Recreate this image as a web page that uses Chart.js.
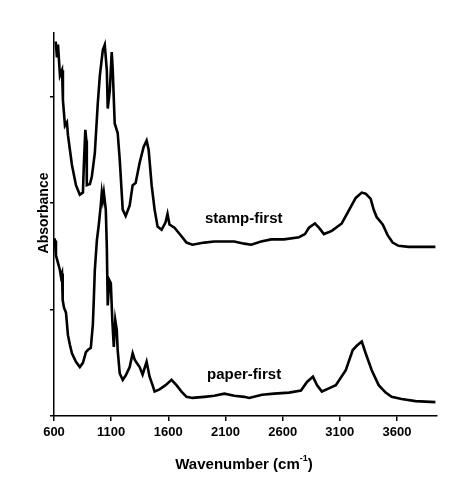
<!DOCTYPE html>
<html>
<head>
<meta charset="utf-8">
<script src="https://cdn.jsdelivr.net/npm/chart.js@4/dist/chart.umd.min.js"></script>
<style>
html,body{margin:0;padding:0;background:#fff;}
#wrap{width:474px;height:483px;position:relative;}
</style>
</head>
<body>
<div id="wrap"><canvas id="c" width="474" height="483"></canvas></div>
<script>
// Wavenumber (cm-1) and absorbance values
const stampWn = [615,626,635,652,670,678,696,713,722,757,792,826,853,861,874,883,887,914,931,957,983,1001,1027,1044,1062,1070,1088,1105,1114,1131,1157,1175,1201,1227,1262,1288,1314,1349,1384,1410,1428,1454,1480,1506,1541,1576,1593,1610,1654,1715,1759,1811,1915,2002,2090,2177,2264,2325,2412,2499,2612,2743,2795,2830,2882,2917,2961,3030,3117,3178,3239,3292,3326,3370,3396,3422,3475,3518,3562,3614,3701,3832,3936];
const stampAbs = [3.52,3.37,3.49,3.20,3.25,2.97,2.73,2.76,2.64,2.36,2.17,2.08,2.10,2.36,2.69,2.59,2.17,2.18,2.25,2.47,2.94,3.20,3.44,3.49,3.25,2.89,3.06,3.42,3.25,2.75,2.66,2.41,1.94,1.88,1.98,2.17,2.19,2.38,2.53,2.59,2.50,2.17,1.94,1.78,1.75,1.82,1.90,1.80,1.77,1.69,1.63,1.61,1.63,1.64,1.64,1.64,1.62,1.61,1.64,1.66,1.66,1.68,1.71,1.77,1.81,1.77,1.71,1.74,1.81,1.93,2.05,2.10,2.09,2.04,1.94,1.87,1.80,1.70,1.63,1.60,1.59,1.59,1.59];

const paperWn = [604,609,617,635,652,661,670,674,678,687,705,722,739,757,792,826,853,879,896,922,940,948,957,975,992,1009,1018,1027,1036,1053,1062,1070,1083,1097,1110,1123,1136,1149,1157,1175,1201,1227,1262,1288,1306,1323,1349,1375,1410,1436,1462,1480,1523,1576,1628,1671,1715,1759,1811,1915,2002,2090,2177,2264,2307,2420,2525,2656,2760,2813,2865,2900,2943,3004,3065,3152,3213,3248,3292,3326,3379,3440,3501,3553,3640,3762,3936];
const paperAbs = [1.67,1.65,1.51,1.44,1.37,1.31,1.34,1.21,1.09,1.02,0.97,0.76,0.67,0.59,0.51,0.46,0.50,0.60,0.62,0.64,0.86,1.09,1.37,1.65,1.80,1.98,2.10,2.03,2.10,1.94,1.59,1.04,1.28,1.25,0.90,0.65,0.90,0.81,0.62,0.40,0.34,0.38,0.46,0.59,0.53,0.50,0.46,0.39,0.51,0.37,0.29,0.23,0.25,0.29,0.34,0.29,0.23,0.18,0.17,0.18,0.19,0.21,0.19,0.18,0.17,0.20,0.21,0.22,0.24,0.32,0.37,0.29,0.23,0.26,0.29,0.43,0.62,0.66,0.70,0.59,0.43,0.29,0.22,0.18,0.16,0.14,0.13];

const xTicks = [600,1100,1600,2100,2600,3100,3600];
const yTicks = [0,1,2,3];
const seriesLabels = ['stamp-first','paper-first'];
const xTitle = ['Wavenumber (cm', '-1', ')'];
const yTitle = 'Absorbance';

const FONT = '"Liberation Sans", Arial, sans-serif';

const toPts = (xs, ys) => xs.map((x, i) => ({x: x, y: ys[i]}));

const labelsPlugin = {
  id: 'labels',
  afterDraw(chart) {
    const ctx = chart.ctx;
    ctx.save();
    ctx.fillStyle = '#000';
    // series annotations
    ctx.font = 'bold 15px ' + FONT;
    ctx.textAlign = 'left';
    ctx.textBaseline = 'alphabetic';
    ctx.fillText(seriesLabels[0], 205, 223);
    ctx.fillText(seriesLabels[1], 207, 379);
    // x title with superscript
    ctx.font = 'bold 15px ' + FONT;
    const w1 = ctx.measureText(xTitle[0]).width;
    ctx.font = 'bold 9px ' + FONT;
    const w2 = ctx.measureText(xTitle[1]).width;
    ctx.font = 'bold 15px ' + FONT;
    const w3 = ctx.measureText(xTitle[2]).width;
    const total = w1 + w2 + w3;
    let x0 = 244 - total / 2;
    const base = 469;
    ctx.fillText(xTitle[0], x0, base);
    ctx.font = 'bold 9px ' + FONT;
    ctx.fillText(xTitle[1], x0 + w1, base - 8);
    ctx.font = 'bold 15px ' + FONT;
    ctx.fillText(xTitle[2], x0 + w1 + w2, base);
    // y title
    ctx.translate(48, 213);
    ctx.rotate(-Math.PI / 2);
    ctx.textAlign = 'center';
    ctx.font = 'bold 14px ' + FONT;
    ctx.fillText(yTitle, 0, 0);
    ctx.restore();
  }
};

new Chart(document.getElementById('c'), {
  type: 'line',
  data: {
    datasets: [
      {label: seriesLabels[0], data: toPts(stampWn, stampAbs), borderColor: '#000', borderWidth: 2.6, pointRadius: 0, tension: 0, fill: false},
      {label: seriesLabels[1], data: toPts(paperWn, paperAbs), borderColor: '#000', borderWidth: 2.6, pointRadius: 0, tension: 0, fill: false}
    ]
  },
  options: {
    responsive: false,
    animation: false,
    layout: {padding: {left: 0, top: 33, right: 37, bottom: 0}},
    plugins: {legend: {display: false}, tooltip: {enabled: false}},
    scales: {
      x: {
        type: 'linear', min: 600, max: 3950,
        afterBuildTicks: s => { s.ticks = xTicks.map(v => ({value: v})); },
        afterFit: s => { s.height = 67; },
        grid: {drawOnChartArea: false, drawTicks: true, tickLength: 5, color: '#000', tickColor: '#000', lineWidth: 1.5},
        border: {display: true, color: '#000', width: 1.5},
        ticks: {color: '#000', padding: 4, font: {family: FONT, size: 13, weight: 'bold'}, maxRotation: 0, autoSkip: false,
                callback: v => String(v)}
      },
      y: {
        type: 'linear', min: 0, max: 3.6,
        afterBuildTicks: s => { s.ticks = yTicks.map(v => ({value: v})); },
        afterFit: s => { s.width = 54; },
        grid: {drawOnChartArea: false, drawTicks: true, tickLength: 4, color: '#000', tickColor: '#000', lineWidth: 1.5},
        border: {display: true, color: '#000', width: 1.5},
        ticks: {display: false}
      }
    }
  },
  plugins: [labelsPlugin]
});
</script>
</body>
</html>
